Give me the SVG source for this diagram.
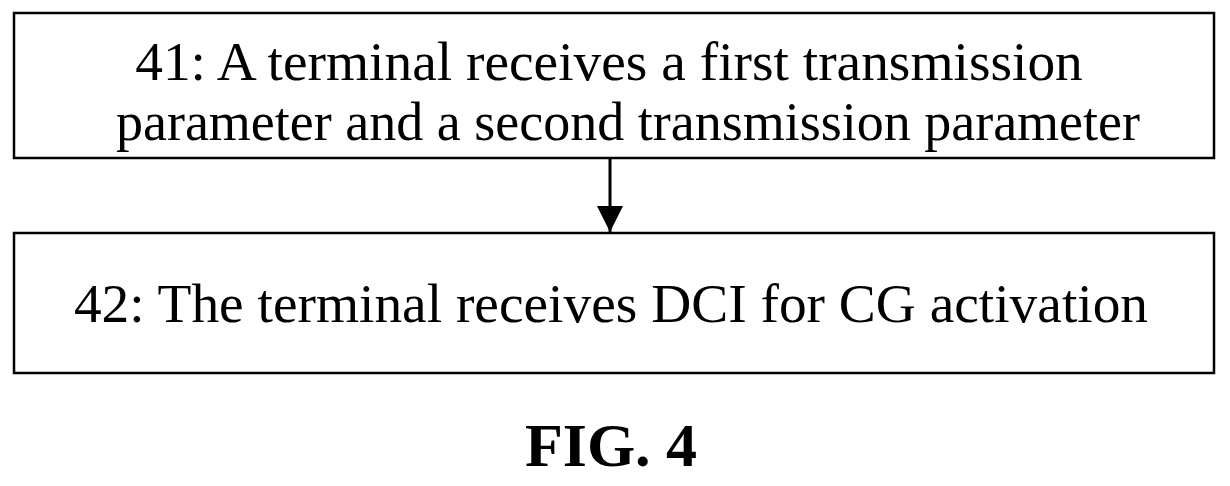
<svg xmlns="http://www.w3.org/2000/svg" width="1230" height="486" viewBox="0 0 1230 486">
<style>
.box{fill:#fff;stroke:#000;stroke-width:2.5}
.t{font-family:"Liberation Serif",serif;font-size:54px;fill:#000;text-anchor:middle}
</style>
<defs><marker id="a" markerWidth="26" markerHeight="30" refX="26" refY="13" orient="auto" markerUnits="userSpaceOnUse" viewBox="0 0 26 26"><path d="M0,0L26,13L0,26z"/></marker></defs>
<rect width="1230" height="486" fill="#fff"/>
<g id="n41"><rect class="box" x="14" y="13" width="1200" height="145"/>
<text class="t" x="609" y="80" style="font-size:55.4px">41: A terminal receives a first transmission</text>
<text class="t" x="628" y="140">parameter and a second transmission parameter</text></g>
<g id="n42"><rect class="box" x="14" y="233" width="1200" height="140"/>
<text class="t" x="611" y="322" style="font-size:55.4px">42: The terminal receives DCI for CG activation</text></g>
<g id="c"><line x1="610" y1="158" x2="610" y2="232" stroke="#000" stroke-width="3" marker-end="url(#a)"/></g>
<text x="611" y="466" style="font-family:'Liberation Serif',serif;font-size:62px;font-weight:bold;text-anchor:middle">FIG. 4</text>
</svg>
